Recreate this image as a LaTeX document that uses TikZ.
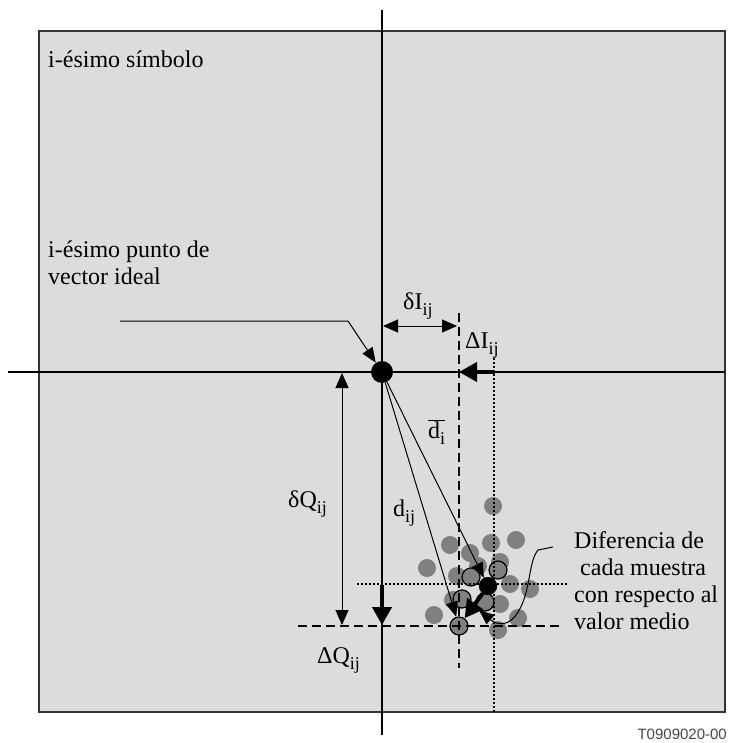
\documentclass[tikz,border=0pt]{standalone}
\usepackage{fontspec}
\setmainfont{Liberation Serif}
\newfontfamily\tagfont{Liberation Sans}
\usetikzlibrary{arrows.meta,positioning}
\definecolor{panelgrey}{RGB}{220,220,220}
\definecolor{samplegrey}{RGB}{128,128,128}
\definecolor{taggrey}{RGB}{70,70,70}
\newcommand\lsub[1]{\raisebox{-0.25em}{\fontsize{18}{18}\selectfont #1}}
\tikzset{
  panel/.style={draw=black!80, line width=1.3pt, fill=panelgrey},
  axisline/.style={line width=1.2pt, black},
  fineline/.style={line width=1pt, black},
  dimarrow/.style={fineline, {Triangle[length=15pt,width=13pt]}-{Triangle[length=15pt,width=13pt]}},
  leadarrow/.style={fineline, -{Triangle[length=15pt,width=12pt]}},
  heavyarrow/.style={line width=4pt, -{Triangle[length=18pt,width=19pt]}},
  sampleguide/.style={line width=1.6pt, dash pattern=on 9pt off 5pt},
  meanguide/.style={line width=1.5pt, dash pattern=on 1.5pt off 2.5pt},
  sample/.style={circle, fill=samplegrey, minimum size=18pt, inner sep=0pt},
  picked/.style={sample, draw=black, line width=1.2pt},
  bigdot/.style={circle, fill=black, minimum size=22pt, inner sep=0pt},
  meandot/.style={bigdot, minimum size=18pt},
  lbl/.style={inner sep=0pt, anchor=base west, font=\fontsize{24}{27}\selectfont},
}
\begin{document}
\begin{tikzpicture}[x=1pt,y=-1pt]
  \useasboundingbox (0,0) rectangle (731,743);
  \draw[panel] (39,31) rectangle (725,712);
  % axes
  \coordinate (ytop) at (382,10);  \coordinate (ybot) at (382,735);
  \coordinate (xl) at (8,372);     \coordinate (xr) at (725,372);
  \draw[axisline] (ytop) -- (ybot);
  \draw[axisline] (xl) -- (xr);
  % cloud of received samples
  \foreach \x/\y [count=\i] in {493/506, 450/545, 491/543, 516/540, 470/553,
      427/568, 500/562, 457/576, 510/584, 530/589, 453/600, 500/604,
      434/615, 518/618, 498/630, 478/566}
    \node[sample] (g\i) at (\x,\y) {};
  \foreach \x/\y/\n in {498/570/pa, 471/577/pb, 462/599/pc, 485/602/pd, 459/626/pe}
    \node[picked] (\n) at (\x,\y) {};
  % guides
  \coordinate (gvt) at (459,313);  \coordinate (gvb) at (459,668);
  \coordinate (ghl) at (298,626);  \coordinate (ghr) at (562,626);
  \coordinate (mvt) at (494,358);  \coordinate (mvb) at (494,712);
  \coordinate (mhl) at (357,584);  \coordinate (mhr) at (568,584);
  \draw[sampleguide] (gvt) -- (gvb);
  \draw[sampleguide] (ghl) -- (ghr);
  \draw[meanguide] (mvt) -- (mvb);
  \draw[meanguide] (mhl) -- (mhr);
  % ideal point and mean
  \node[bigdot] (O) at (382,372) {};
  \node[meandot] (M) at (488,586) {};
  % offsets
  \coordinate (dIa) at (383,326);  \coordinate (dIb) at (457,326);
  \coordinate (dQa) at (342,373);  \coordinate (dQb) at (342,625);
  \coordinate (DIa) at (495,372);  \coordinate (DIb) at (459,372);
  \coordinate (DQa) at (382,585);  \coordinate (DQb) at (382,625);
  \draw[dimarrow] (dIa) -- (dIb);
  \draw[dimarrow] (dQa) -- (dQb);
  \draw[heavyarrow] (DIa) -- (DIb);
  \draw[heavyarrow] (DQa) -- (DQb);
  \draw[leadarrow] (O) -- (M);
  \draw[leadarrow] (O) -- (pe);
  \draw[heavyarrow] (M) -- (pe);
  \node[meandot] at (M) {};
  % leaders
  \coordinate (lp) at (120,321);
  \draw[leadarrow] (lp) -- (348,321) -- (O);
  \coordinate (cl) at (553,547);   \coordinate (dtip) at (479,610);
  \draw[leadarrow] (cl) -- (538,550) .. controls (528,562) and (531,592) .. (518,612)
    .. controls (510,626) and (498,626) .. (dtip);
  % labels (multi-line ones sit on their last baseline)
  \node[lbl] (sym) at (48,68) {i-ésimo símbolo};
  \node[lbl, align=left] (ptlbl) at (48,284) {i-ésimo punto de\\vector ideal};
  \node[lbl] (dIlbl) at (403,309) {δI\lsub{ij}};
  \node[lbl] (DIlbl) at (465,348) {ΔI\lsub{ij}};
  \node[lbl] (dbar) at (428,438) {$\overline{\mbox{d\lsub{i}}}$};
  \node[lbl] (dQlbl) at (288,507) {δQ\lsub{ij}};
  \node[lbl] (dij) at (393,516) {d\lsub{ij}};
  \node[lbl] (DQlbl) at (317,663) {ΔQ\lsub{ij}};
  \node[lbl, align=left] (diff) at (574,629)
    {Diferencia de\\\hspace*{.25em}cada muestra\\con respecto al\\valor medio};
  \node[anchor=base east, inner sep=0pt, font=\tagfont\fontsize{15}{15}\selectfont,
        text=taggrey] (tag) at (727,739) {T0909020-00};
\end{tikzpicture}
\end{document}
